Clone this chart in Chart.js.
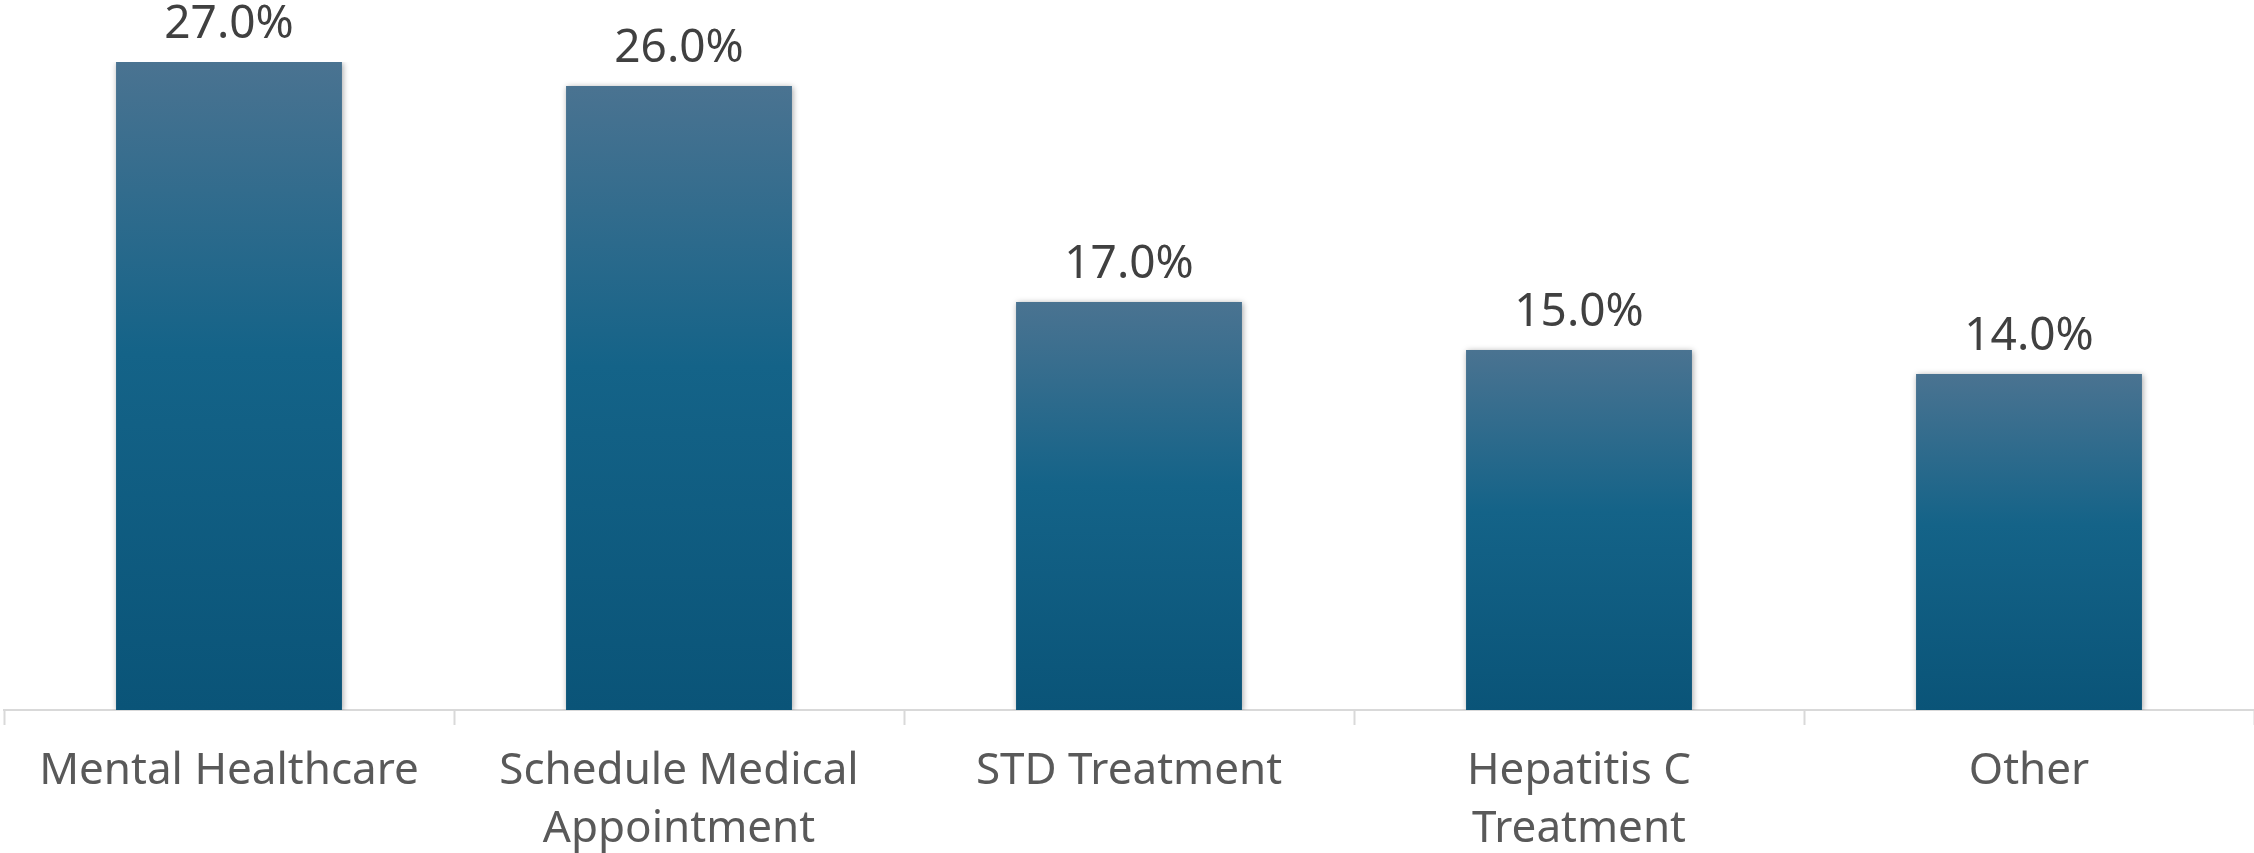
<!DOCTYPE html>
<html>
<head>
<meta charset="utf-8">
<script src="https://cdn.jsdelivr.net/npm/chart.js@4/dist/chart.umd.min.js"></script>
<style>
  html, body { margin: 0; padding: 0; background: #fff; }
  canvas { display: block; }
</style>
</head>
<body>
<canvas id="chart" width="2254" height="853"></canvas>
<script>
// Danh mục và giá trị (%)
const categories = [
  "Mental Healthcare",
  ["Schedule Medical", "Appointment"],
  "STD Treatment",
  ["Hepatitis C", "Treatment"],
  "Other"
];
const values = [27, 26, 17, 15, 14];

const FONT = "'Noto Sans', 'Open Sans', sans-serif";

// Gradient riêng cho từng cột (sáng ở trên, đậm ở dưới)
function barGradient(context) {
  const chart = context.chart;
  const y = chart.scales.y;
  if (!y || !chart.chartArea) return "#0f5f86";
  const v = context.raw;
  const top = y.getPixelForValue(v);
  const bottom = y.getPixelForValue(0);
  const g = chart.ctx.createLinearGradient(0, top, 0, bottom);
  g.addColorStop(0, "#4a7391");
  g.addColorStop(0.45, "#146388");
  g.addColorStop(1, "#0a5478");
  return g;
}

// Bóng đổ nhẹ cho cột
const shadowPlugin = {
  id: "barShadow",
  beforeDatasetsDraw(chart) {
    const ctx = chart.ctx;
    ctx.save();
    ctx.shadowColor = "rgba(0,0,0,0.35)";
    ctx.shadowBlur = 6;
    ctx.shadowOffsetX = 1;
    ctx.shadowOffsetY = 1;
  },
  afterDatasetsDraw(chart) {
    chart.ctx.restore();
  }
};

// Nhãn giá trị phía trên cột
const labelPlugin = {
  id: "valueLabels",
  afterDraw(chart) {
    const ctx = chart.ctx;
    const meta = chart.getDatasetMeta(0);
    ctx.save();
    ctx.font = "46px " + FONT;
    ctx.fillStyle = "#404040";
    ctx.textAlign = "center";
    ctx.textBaseline = "alphabetic";
    meta.data.forEach((bar, i) => {
      ctx.fillText(values[i].toFixed(1) + "%", bar.x, bar.y - 24);
    });
    ctx.restore();
  }
};

new Chart(document.getElementById("chart").getContext("2d"), {
  type: "bar",
  data: {
    labels: categories,
    datasets: [{
      data: values,
      backgroundColor: barGradient,
      borderWidth: 0,
      categoryPercentage: 1,
      barPercentage: 0.502
    }]
  },
  options: {
    responsive: false,
    devicePixelRatio: 1,
    animation: false,
    layout: { padding: { left: 4, right: 0, top: 62, bottom: 0 } },
    plugins: {
      legend: { display: false },
      tooltip: { enabled: false }
    },
    scales: {
      x: {
        grid: {
          display: true,
          drawOnChartArea: false,
          drawTicks: true,
          tickLength: 15,
          tickWidth: 2,
          tickColor: "#d9d9d9",
          offset: true
        },
        border: { display: true, color: "#d9d9d9", width: 2 },
        ticks: {
          color: "#595959",
          font: { family: FONT, size: 44, lineHeight: 1.32 },
          padding: 17,
          maxRotation: 0,
          autoSkip: false
        },
        afterFit(scale) { scale.height = 143; }
      },
      y: {
        display: false,
        min: 0,
        max: 27
      }
    }
  },
  plugins: [shadowPlugin, labelPlugin]
});
</script>
</body>
</html>
